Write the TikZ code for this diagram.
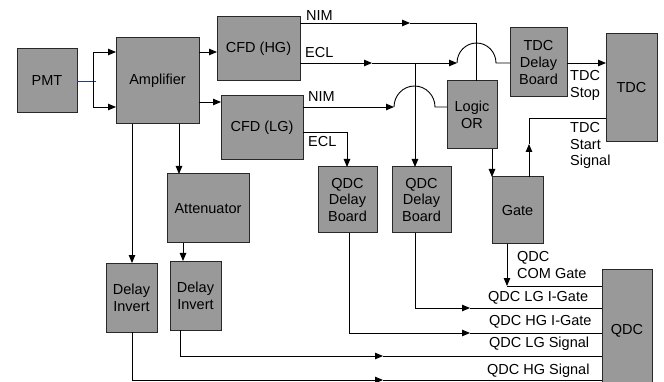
\documentclass[tikz,border=0pt]{standalone}
\usepackage{fontspec}
\setmainfont{Liberation Sans}
\usetikzlibrary{arrows.meta}
\definecolor{boxgray}{RGB}{153,153,153}
\definecolor{boxline}{RGB}{40,40,40}
\definecolor{pmtblue}{RGB}{40,60,120}
\tikzset{
  blk/.style={draw=boxline, fill=boxgray, line width=1pt, inner sep=0pt, outer sep=0pt, align=center,
    font=\fontsize{14.5}{16.7}\selectfont},
  lbl/.style={inner sep=0pt, align=left, font=\fontsize{14.5}{16.7}\selectfont},
  wire/.style={line width=0.9pt, black},
  arr/.style={wire, -{Triangle[length=8pt,width=6.5pt]}},
}
\begin{document}
\begin{tikzpicture}[x=1pt,y=-1pt]
\useasboundingbox (0,0) rectangle (664,382);
\clip (0,0) rectangle (664,382);
% boxes
\node[blk, minimum width=60pt, minimum height=64pt] (PMT) at (47,81) {PMT};
\node[blk, minimum width=83pt, minimum height=86pt] (Amp) at (157.5,81) {Amplifier};
\node[blk, minimum width=83pt, minimum height=64pt] (CFDHG) at (258.5,49) {CFD (HG)};
\node[blk, minimum width=82pt, minimum height=64pt] (CFDLG) at (262,128) {CFD (LG)};
\node[blk, minimum width=82pt, minimum height=69pt] (Att) at (208,208.5) {Attenuator};
\node[blk, minimum width=51pt, minimum height=69pt] (DI1) at (131.5,297.5) {Delay\\Invert};
\node[blk, minimum width=51pt, minimum height=69pt] (DI2) at (195.5,295.5) {Delay\\Invert};
\node[blk, minimum width=59pt, minimum height=66pt] (QDB1) at (347.5,200) {QDC\\Delay\\Board};
\node[blk, minimum width=59pt, minimum height=66pt] (QDB2) at (421.5,200) {QDC\\Delay\\Board};
\node[blk, minimum width=50pt, minimum height=68pt] (LOR) at (472,115) {Logic\\OR};
\node[blk, minimum width=51pt, minimum height=67pt] (Gate) at (517.5,210.5) {Gate};
\node[blk, minimum width=57pt, minimum height=69pt] (TDCDB) at (538.5,62.5) {TDC\\Delay\\Board};
\node[blk, minimum width=51pt, minimum height=108pt] (TDC) at (631.5,88) {TDC};
\node[blk, minimum width=50pt, minimum height=124pt] (QDC) at (627,331) {QDC};

% PMT to amplifier
\coordinate (pe) at (96,81);
\coordinate (f1) at (93,52);
\coordinate (f2) at (93,107);
\draw[line width=0.9pt, pmtblue] (PMT.east) -- (pe);
\draw[wire] (f1) -- (f2);
\draw[arr] (f1) -- (f1 -| Amp.west);
\draw[arr] (f2) -- (f2 -| Amp.west);

% amplifier outputs
\coordinate (a1) at (199,52);
\coordinate (a2) at (199,102);
\draw[arr] (a1) -- (a1 -| CFDHG.west);
\draw[arr] (a2) -- (a2 -| CFDLG.west);
\coordinate (a3) at (132,124);
\coordinate (a4) at (179,124);
\draw[arr] (a3) -- (a3 |- DI1.north);
\draw[arr] (a4) -- (a4 |- Att.north);
\coordinate (at1) at (183,243);
\draw[arr] (at1) -- (at1 |- DI2.north);

% CFD HG NIM -> Logic OR
\coordinate (h1) at (300,23);
\coordinate (h1m) at (410,23);
\coordinate (h1c) at (476,23);
\draw[arr] (h1) -- (h1m);
\draw[wire] (h1m) -- (h1c) -- (h1c |- LOR.north);
\node[lbl, anchor=west] (tNIM1) at (306,16) {NIM};

% CFD HG ECL -> TDC delay board, with hop
\coordinate (e1) at (300,63);
\coordinate (e1m) at (372,63);
\coordinate (e1b) at (415,63);
\coordinate (e1h) at (457,63);
\draw[arr] (e1) -- (e1m);
\draw[arr] (e1m) -- (e1h);
\draw[wire] (e1h) arc[start angle=180, end angle=0, x radius=19.5pt, y radius=20pt] -- (e1h -| TDCDB.west);
\draw[arr] (e1b) -- (e1b |- QDB2.north);
\node[lbl, anchor=west] (tECL1) at (305,53) {ECL};

% CFD LG NIM -> Logic OR with hop
\coordinate (n2) at (303,107);
\coordinate (n2h) at (394,107);
\draw[arr] (n2) -- (n2h);
\draw[wire] (n2h) arc[start angle=180, end angle=0, x radius=20.5pt, y radius=21pt] -- (n2h -| LOR.west);
\node[lbl, anchor=west] (tNIM2) at (308,97) {NIM};

% CFD LG ECL -> QDC delay board 1
\coordinate (l2) at (303,132);
\coordinate (l2c) at (347,132);
\draw[wire] (l2) -- (l2c);
\draw[arr] (l2c) -- (l2c |- QDB1.north);
\node[lbl, anchor=west] (tECL2) at (308,142) {ECL};

% Logic OR -> Gate
\coordinate (o1) at (492,149);
\draw[arr] (o1) -- (o1 |- Gate.north);

% Gate -> TDC start
\coordinate (g1) at (529,177);
\coordinate (g1m) at (529,144);
\coordinate (g1c) at (529,118);
\draw[arr] (g1) -- (g1m);
\draw[wire] (g1m) -- (g1c) -- (g1c -| TDC.west);

% TDC delay board -> TDC
\coordinate (t1) at (567,63);
\draw[arr] (t1) -- (t1 -| TDC.west);
\node[lbl, anchor=north west] (tStop) at (570,70) {TDC\\Stop};
\node[lbl, anchor=north west] (tStart) at (570,122) {TDC\\Start\\Signal};

% Gate -> QDC COM gate
\coordinate (c1) at (507,244);
\coordinate (c1c) at (507,286);
\draw[arr] (c1) -- (c1c);
\draw[wire] (c1c) -- (c1c -| QDC.west);
\node[lbl, anchor=north west] (tCOM) at (517,251) {QDC\\COM Gate};

% QDC delay board 2 -> LG I-Gate
\coordinate (q2) at (415,233);
\coordinate (q2c) at (415,308);
\coordinate (q2m) at (470,308);
\draw[wire] (q2) -- (q2c);
\draw[arr] (q2c) -- (q2m);
\draw[wire] (q2m) -- (q2m -| QDC.west);
\node[lbl, anchor=west] (tLGI) at (488,298) {QDC LG I-Gate};

% QDC delay board 1 -> HG I-Gate
\coordinate (q1) at (349,233);
\coordinate (q1c) at (349,333);
\coordinate (q1m) at (470,333);
\draw[wire] (q1) -- (q1c);
\draw[arr] (q1c) -- (q1m);
\draw[wire] (q1m) -- (q1m -| QDC.west);
\node[lbl, anchor=west] (tHGI) at (489,322) {QDC HG I-Gate};

% Delay invert 2 -> LG signal
\coordinate (d2) at (180,330);
\coordinate (d2c) at (180,356);
\coordinate (d2m) at (383,356);
\draw[wire] (d2) -- (d2c);
\draw[arr] (d2c) -- (d2m);
\draw[wire] (d2m) -- (d2m -| QDC.west);
\node[lbl, anchor=west] (tLGS) at (489,344) {QDC LG Signal};

% Delay invert 1 -> HG signal
\coordinate (d1) at (132,332);
\coordinate (d1c) at (132,380);
\coordinate (d1m) at (383,380);
\draw[wire] (d1) -- (d1c);
\draw[arr] (d1c) -- (d1m);
\draw[wire] (d1m) -- (d1m -| QDC.west);
\node[lbl, anchor=west] (tHGS) at (487,371) {QDC HG Signal};
\end{tikzpicture}
\end{document}
